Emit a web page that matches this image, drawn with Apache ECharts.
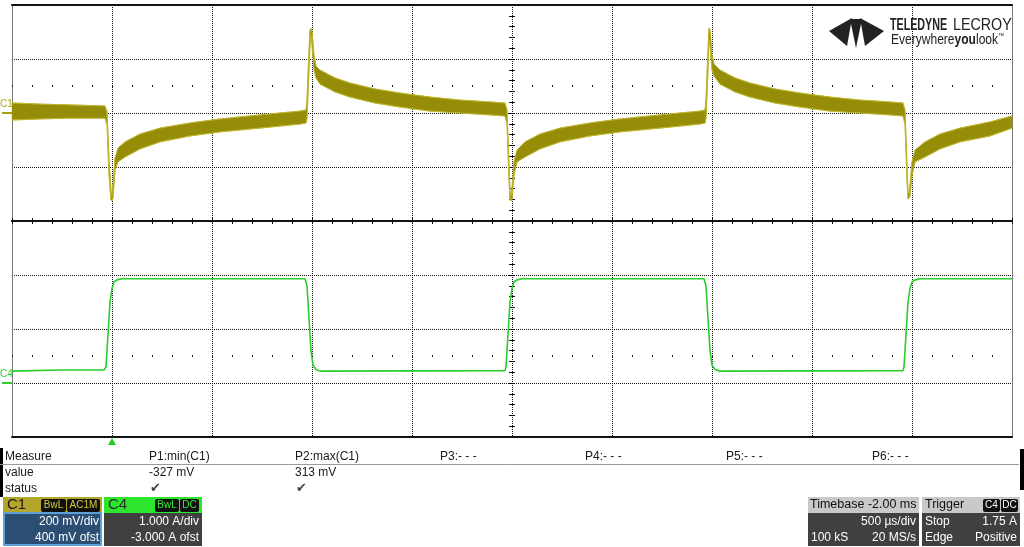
<!DOCTYPE html>
<html>
<head>
<meta charset="utf-8">
<script src="https://cdn.jsdelivr.net/npm/echarts@6/dist/echarts.min.js"></script>
<style>
html,body{margin:0;padding:0;background:#fff;}
#chart{width:1024px;height:547px;}
</style>
</head>
<body>
<div id="chart"></div>
<script>
// ---- Data (time in ms relative to trigger) ----
// C1: envelope of the noisy trace, mV (low / high edge of the band)
var c1Time = [-0.5,-0.36,-0.21,-0.035,-0.025,-0.015,-0.005,0,0.005,0.015,0.03,0.065,0.14,0.24,0.39,0.54,0.74,0.94,0.97,
  0.975,0.985,0.99,0.995,1.0,1.01,1.02,1.04,1.115,1.19,1.315,1.44,1.59,1.74,1.89,1.965,
  1.975,1.985,1.99,1.995,2.0,2.01,2.025,2.065,2.14,2.24,2.39,2.54,2.74,2.94,2.965,
  2.97,2.98,2.985,2.99,3.0,3.01,3.04,3.115,3.19,3.315,3.44,3.59,3.74,3.89,3.955,
  3.965,3.975,3.98,3.985,3.99,4.0,4.015,4.065,4.14,4.24,4.39,4.5];
var c1High = [37,33,30,26,4,-174,-285,-307,-267,-167,-130,-107,-78,-56,-37,-22,-7,7,11,
  48,233,307,313,300,215,174,159,130,111,89,74,59,48,41,37,
  11,-193,-293,-307,-278,-181,-137,-107,-78,-56,-37,-22,-7,7,11,
  48,233,315,307,215,181,159,130,111,89,74,59,48,41,37,
  11,-193,-293,-300,-267,-181,-137,-107,-78,-56,-33,-11];
var c1Low = [-26,-22,-19,-19,-44,-230,-322,-326,-315,-211,-181,-163,-133,-107,-85,-70,-56,-41,-37,
  -19,159,252,289,252,159,130,107,78,59,37,22,7,0,-7,-11,
  -41,-248,-322,-326,-319,-230,-181,-163,-133,-107,-85,-70,-56,-41,-37,
  -19,159,270,252,159,137,107,78,59,37,22,7,0,-7,-11,
  -41,-248,-319,-315,-307,-230,-181,-163,-133,-107,-85,-56];
// C4: current, A
var c4Time = [-0.5,-0.26,-0.04,-0.03,-0.02,-0.01,0,0.01,0.025,0.05,0.965,0.975,0.985,0.995,1.005,1.02,1.04,
  1.965,1.97,1.98,1.99,2.0,2.01,2.025,2.05,2.96,2.97,2.98,2.99,3.0,3.015,3.04,
  3.955,3.96,3.97,3.98,3.99,4.0,4.015,4.04,4.5];
var c4Amp = [0.22,0.24,0.24,0.30,0.9,1.5,1.75,1.87,1.91,1.93,1.93,1.8,1.2,0.6,0.33,0.25,0.22,
  0.23,0.3,0.9,1.5,1.75,1.87,1.91,1.93,1.93,1.8,1.2,0.6,0.33,0.25,0.22,
  0.23,0.3,0.9,1.5,1.75,1.87,1.91,1.93,1.93];
// axis settings
var tMin = -0.5, tMax = 4.5, tStep = 0.5;
var c1Min = -400, c1Max = 400, c1Step = 200;
var c4Min = -1, c4Max = 3, c4Step = 1;
// measurement table
var measHeaders = ["P1:min(C1)","P2:max(C1)","P3:- - -","P4:- - -","P5:- - -","P6:- - -"];
var measValues = ["-327 mV","313 mV"];

var chart = echarts.init(document.getElementById('chart'), null, {renderer:'canvas'});
var FONT = "'Liberation Sans', Arial, sans-serif";
var BLACK = '#111';

function xAx(grid, pos, ticks, split) {
  return {
    type:'value', gridIndex:grid, position:pos, min:tMin, max:tMax, interval:tStep,
    axisLabel:{show:false},
    axisLine:{show:true, onZero:false, lineStyle:{color:BLACK, width:2}},
    axisTick:{show:ticks, inside:true, length:3, lineStyle:{color:BLACK}},
    minorTick:{show:ticks, splitNumber:5, length:3, lineStyle:{color:BLACK}},
    splitLine:{show:split, lineStyle:{type:'dotted', color:BLACK, width:1}}
  };
}
function yAx(grid, pos, mn, mx, st, kind) {
  var a = {type:'value', gridIndex:grid, position:pos, min:mn, max:mx, interval:st,
    axisLabel:{show:false}, splitLine:{show:false},
    axisLine:{show:false, onZero:false}, axisTick:{show:false}};
  if (kind === 'border') {
    a.axisLine = {show:true, onZero:false, lineStyle:{color:'#777', width:1}};
  }
  if (kind === 'borderSplit') {
    a.axisLine = {show:true, onZero:false, lineStyle:{color:'#777', width:1}};
    a.splitLine = {show:true, lineStyle:{type:'dotted', color:BLACK, width:1}};
  }
  if (kind === 'center') {
    a.offset = -500;
    a.axisTick = {show:true, length:3, lineStyle:{color:BLACK}};
    a.minorTick = {show:true, splitNumber:5, length:3, lineStyle:{color:BLACK}};
  }
  return a;
}

var c1Data = c1Time.map(function(t,i){ return [t, c1Low[i], c1High[i]]; });
var c4Data = c4Time.map(function(t,i){ return [t, c4Amp[i]]; });

var dotLine = {symbol:['none','none'], silent:true, label:{show:false},
  lineStyle:{type:[1,19], color:'#222', width:2}, emphasis:{disabled:true}};

var option = {
  animation:false,
  backgroundColor:'#fff',
  grid:[
    {left:12, right:12, top:5, height:216},
    {left:12, right:12, top:221, height:216}
  ],
  xAxis:[
    xAx(0,'bottom',true,true),
    xAx(0,'top',false,false),
    xAx(1,'top',true,true),
    xAx(1,'bottom',false,false)
  ],
  yAxis:[
    yAx(0,'left',c1Min,c1Max,c1Step,'borderSplit'),
    yAx(0,'right',c1Min,c1Max,c1Step,'border'),
    yAx(0,'left',c1Min,c1Max,c1Step,'center'),
    yAx(0,'right',c1Min,c1Max,c1Step,'center'),
    yAx(1,'left',c4Min,c4Max,c4Step,'borderSplit'),
    yAx(1,'right',c4Min,c4Max,c4Step,'border'),
    yAx(1,'left',c4Min,c4Max,c4Step,'center'),
    yAx(1,'right',c4Min,c4Max,c4Step,'center')
  ],
  series:[
    {
      name:'C1', type:'custom', xAxisIndex:0, yAxisIndex:0, z:5,
      data:c1Data, encode:{x:0, y:[1,2]}, silent:true,
      renderItem:function(params, api){
        if (params.dataIndex !== 0) return null;
        var n = c1Data.length, top = [], bot = [];
        for (var i = 0; i < n; i++) {
          top.push(api.coord([api.value(0,i), api.value(2,i)]));
          bot.push(api.coord([api.value(0,i), api.value(1,i)]));
        }
        var poly = top.concat(bot.slice().reverse());
        return {type:'group', children:[
          {type:'polygon', shape:{points:poly}, style:{fill:'#958d08', stroke:'#a59d12', lineWidth:0.5}},
          {type:'polyline', shape:{points:top}, style:{stroke:'#bfb628', lineWidth:1, fill:null}},
          {type:'polyline', shape:{points:bot}, style:{stroke:'#bfb628', lineWidth:1, fill:null}}
        ]};
      }
    },
    {
      name:'dots1', type:'line', xAxisIndex:0, yAxisIndex:0, data:[], silent:true,
      markLine:Object.assign({data:[{yAxis:(c1Max+c1Min)/2 + c1Step/2}]}, dotLine)
    },
    {
      name:'C4', type:'line', xAxisIndex:2, yAxisIndex:4, data:c4Data, z:5,
      showSymbol:false, symbol:'none', silent:true,
      lineStyle:{color:'#2acd2a', width:1.6},
      markLine:Object.assign({data:[{yAxis:c4Min + c4Step*1.5}]}, dotLine)
    }
  ]
};
chart.setOption(option);

// ---- overlays: markers, logo, measurement panel ----
var p1 = chart.convertToPixel({seriesIndex:0}, [0, 0]);
var p4 = chart.convertToPixel({seriesIndex:2}, [0, 0]);
var gBottom = chart.convertToPixel({seriesIndex:2}, [0, c4Min]);

function txt(x, y, s, opt) {
  opt = opt || {};
  return {type:'text', x:x, y:y, z:100, silent:true, scaleX:opt.sx || 1,
    style:{text:s, fill:opt.color || '#1a1a1a', font:(opt.weight||'normal') + ' ' + (opt.size||12) + 'px ' + (opt.family||FONT),
      align:opt.align || 'left', verticalAlign:'middle', rich:opt.rich}};
}
function rect(x, y, w, h, fill, opt) {
  opt = opt || {};
  return {type:'rect', z:99, silent:true, shape:{x:x, y:y, width:w, height:h, r:opt.r||0},
    style:{fill:fill, stroke:opt.stroke||null, lineWidth:opt.lw||0}};
}

var g = [];
// channel markers on the left
g.push(txt(0, p1[1]-9, 'C1', {color:'#b0a514', size:10}));
g.push({type:'line', z:100, shape:{x1:2, y1:p1[1], x2:12, y2:p1[1]}, style:{stroke:'#a89e10', lineWidth:2}});
g.push(txt(0, p4[1]-9, 'C4', {color:'#2fcf2f', size:10}));
g.push({type:'line', z:100, shape:{x1:2, y1:p4[1], x2:12, y2:p4[1]}, style:{stroke:'#2fcf2f', lineWidth:2}});
// trigger position marker
g.push({type:'polygon', z:100, shape:{points:[[p1[0], gBottom[1]+1],[p1[0]-4, gBottom[1]+8],[p1[0]+4, gBottom[1]+8]]}, style:{fill:'#22cc22'}});

// logo
g.push({type:'polygon', z:100, shape:{points:[[829,31],[852,18],[847,46]]}, style:{fill:'#222'}});
g.push({type:'polygon', z:100, shape:{points:[[850,19],[862,19],[856,48]]}, style:{fill:'#222'}});
g.push({type:'polygon', z:100, shape:{points:[[860,18],[884,31],[865,46]]}, style:{fill:'#222'}});
g.push(txt(890, 25, 'TELEDYNE', {weight:'bold', size:17, sx:0.63, color:'#222'}));
g.push(txt(953, 25, 'LECROY', {size:17, sx:0.84, color:'#222'}));
g.push({type:'text', x:891, y:40, z:100, scaleX:0.86, style:{
  text:'{a|Everywhere}{b|you}{a|look}{c|™}', verticalAlign:'middle', fill:'#222',
  rich:{a:{font:'normal 14px '+FONT, fill:'#222'}, b:{font:'bold 14px '+FONT, fill:'#222'}, c:{font:'normal 7px '+FONT, fill:'#222', verticalAlign:'top'}}}});

// measurement table
g.push(rect(0, 448, 3, 49, '#000'));
g.push(rect(1020, 449, 4, 41, '#000'));
g.push({type:'line', z:100, shape:{x1:0, y1:464.5, x2:1019, y2:464.5}, style:{stroke:'#9a9a9a', lineWidth:1}});
g.push(txt(5, 457, 'Measure'));
var colX = [149, 295, 440, 585, 726, 872];
measHeaders.forEach(function(h, i){ g.push(txt(colX[i], 457, h)); });
g.push(txt(5, 473, 'value'));
measValues.forEach(function(v, i){ g.push(txt(colX[i], 473, v)); });
g.push(txt(5, 489, 'status'));
g.push(txt(colX[0]+1, 489, '✔', {color:'#444', size:13, family:"'DejaVu Sans', sans-serif"}));
g.push(txt(colX[1]+1, 489, '✔', {color:'#444', size:13, family:"'DejaVu Sans', sans-serif"}));

// C1 box
g.push(rect(3, 497, 99, 16, '#b3a62a'));
g.push(txt(7, 505, 'C1', {size:15, color:'#1a1a1a'}));
g.push(rect(41, 499, 25, 13, '#111', {r:2}));
g.push(txt(53.5, 505.5, 'BwL', {size:10, color:'#d8c83a', align:'center'}));
g.push(rect(67, 499, 33, 13, '#111', {r:2}));
g.push(txt(83.5, 505.5, 'AC1M', {size:10, color:'#d8c83a', align:'center'}));
g.push(rect(4, 513, 97, 32, '#2b4e72', {stroke:'#5f9fd8', lw:2}));
g.push(txt(99, 521.5, '200 mV/div', {color:'#fff', align:'right'}));
g.push(txt(99, 537.5, '400 mV ofst', {color:'#fff', align:'right'}));
// C4 box
g.push(rect(104, 497, 98, 16, '#2ee52e'));
g.push(txt(108, 505, 'C4', {size:15, color:'#2a2a2a'}));
g.push(rect(155, 499, 24, 13, '#111', {r:2}));
g.push(txt(167, 505.5, 'BwL', {size:10, color:'#3be83b', align:'center'}));
g.push(rect(180, 499, 19, 13, '#111', {r:2}));
g.push(txt(189.5, 505.5, 'DC', {size:10, color:'#3be83b', align:'center'}));
g.push(rect(104, 513, 98, 33, '#404040'));
g.push(txt(199, 521.5, '1.000 A/div', {color:'#fff', align:'right'}));
g.push(txt(199, 537.5, '-3.000 A ofst', {color:'#fff', align:'right'}));
// Timebase box
g.push(rect(808, 497, 111, 16, '#c9c9c9'));
g.push(txt(810, 505, 'Timebase -2.00 ms', {size:12.5, color:'#111'}));
g.push(rect(808, 513, 111, 33, '#404040'));
g.push(txt(916, 521.5, '500 µs/div', {color:'#fff', align:'right'}));
g.push(txt(811, 537.5, '100 kS', {color:'#fff'}));
g.push(txt(916, 537.5, '20 MS/s', {color:'#fff', align:'right'}));
// Trigger box
g.push(rect(922, 497, 98, 16, '#c9c9c9'));
g.push(txt(925, 505, 'Trigger', {size:12.5, color:'#111'}));
g.push(rect(983, 499, 17, 13, '#111', {r:2}));
g.push(txt(991.5, 505.5, 'C4', {size:10, color:'#fff', align:'center'}));
g.push(rect(1001, 499, 17, 13, '#111', {r:2}));
g.push(txt(1009.5, 505.5, 'DC', {size:10, color:'#fff', align:'center'}));
g.push(rect(922, 513, 98, 33, '#404040'));
g.push(txt(925, 521.5, 'Stop', {color:'#fff'}));
g.push(txt(1017, 521.5, '1.75 A', {color:'#fff', align:'right'}));
g.push(txt(925, 537.5, 'Edge', {color:'#fff'}));
g.push(txt(1017, 537.5, 'Positive', {color:'#fff', align:'right'}));

chart.setOption({graphic:g});
</script>
</body>
</html>
